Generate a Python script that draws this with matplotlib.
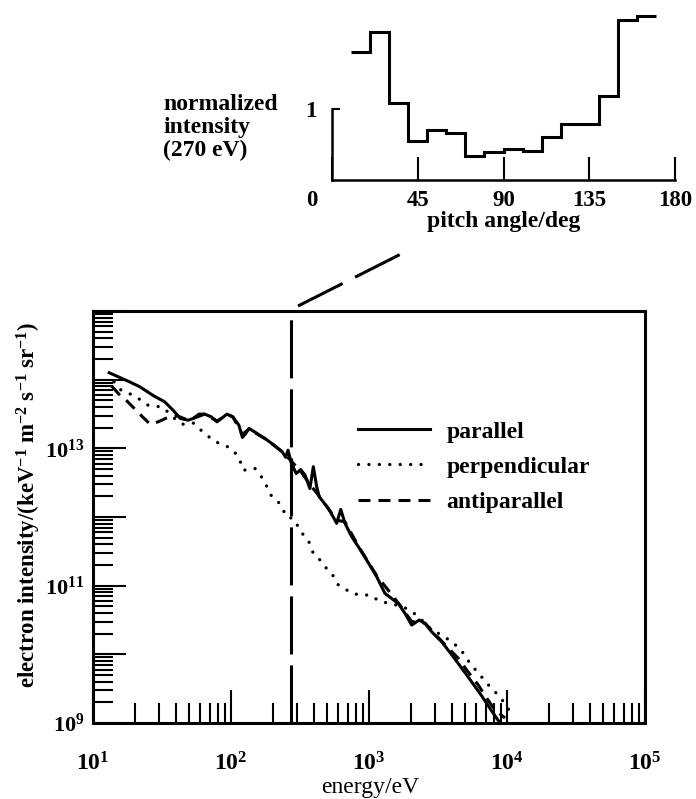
import matplotlib
matplotlib.use('Agg')
import matplotlib.pyplot as plt
from matplotlib.lines import Line2D
from matplotlib.ticker import LogLocator, NullFormatter
from matplotlib.transforms import ScaledTranslation

plt.rcParams['font.family'] = ['Liberation Serif', 'DejaVu Serif']
plt.rcParams['font.weight'] = 'bold'
plt.rcParams['axes.labelweight'] = 'bold'
plt.rcParams['mathtext.fontset'] = 'custom'
plt.rcParams['mathtext.rm'] = 'Liberation Serif:bold'
plt.rcParams['mathtext.bf'] = 'Liberation Serif:bold'
plt.rcParams['mathtext.it'] = 'Liberation Serif:italic:bold'
plt.rcParams['mathtext.sf'] = 'Liberation Serif'
plt.rcParams['lines.scale_dashes'] = False

# pitch-angle distribution at 270 eV, 10 degree bins
pitch_edges = [10, 20, 30, 40, 50, 60, 70, 80, 90, 100, 110, 120, 130, 140, 150, 160, 170]
pitch_norm = [1.80, 2.08, 1.09, 0.55, 0.70, 0.66, 0.34, 0.40, 0.44, 0.41,
              0.61, 0.79, 0.79, 1.18, 2.25, 2.31]
pitch_ticks = [0, 45, 90, 135, 180]

cut_energy = 270  # energy of the pitch-angle cut (eV)

# electron spectra, energy in eV, intensity in keV^-1 m^-2 s^-1 sr^-1
par_energy = [13.1, 17.4, 21.8, 27.2, 33.1, 38.0, 43.0, 48.8, 53.1, 58.6, 64.4, 71.9,
              79.2, 85.1, 93.6, 103, 114, 121, 128, 135, 152, 180, 213, 235, 249, 259,
              274, 297, 320, 344, 373, 395, 418, 436, 466, 507, 551, 583, 624, 670,
              750, 836, 962, 1137, 1306, 1631, 1823, 2038, 2313, 2545, 2846, 3365,
              4083, 5105, 6371, 7960, 8900]
par_flux = [1.26e14, 9.8e13, 7.9e13, 5.9e13, 4.75e13, 3.6e13, 2.72e13, 2.57e13, 2.72e13,
            3.15e13, 3.15e13, 2.88e13, 2.43e13, 2.72e13, 3.15e13, 2.88e13, 2.18e13,
            1.44e13, 1.65e13, 1.95e13, 1.68e13, 1.35e13, 1.05e13, 8.9e12, 7.4e12, 9.4e12,
            6.0e12, 4.3e12, 4.9e12, 4.07e12, 2.6e12, 5.4e12, 2.75e12, 1.97e12, 1.66e12,
            1.33e12, 1.0e12, 8.1e11, 1.29e12, 8.1e11, 5.15e11, 3.7e11, 2.36e11, 1.35e11,
            7.7e10, 5.5e10, 3.95e10, 2.67e10, 3.16e10, 2.82e10, 2.13e10, 1.52e10, 9.2e9,
            5.0e9, 2.7e9, 1.38e9, 1.0e9]

perp_energy = [14.2, 16.0, 17.4, 19.5, 22.4, 25.0, 28.8, 32.2, 36.9, 40.1, 44.9, 50.2,
               53.1, 58.6, 64.4, 70.1, 80.5, 95.1, 106, 116, 122, 135, 149, 166, 180,
               197, 220, 239, 253, 283, 307, 334, 363, 395, 442, 480, 537, 600, 670,
               750, 885, 1017, 1197, 1420, 1773, 2220, 2768, 3656, 4564, 5391, 6371,
               7530, 8900, 9950, 11240]
perp_flux = [9.3e13, 7.0e13, 6.6e13, 5.9e13, 5.0e13, 4.26e13, 4.1e13, 3.94e13, 3.04e13,
             2.57e13, 2.25e13, 2.3e13, 2.35e13, 1.95e13, 1.65e13, 1.44e13, 1.2e13, 1.05e13,
             8.9e12, 6.7e12, 4.8e12, 4.9e12, 5.1e12, 3.85e12, 2.9e12, 2.0e12, 1.66e12,
             1.26e12, 1.0e12, 9.5e11, 7.2e11, 5.5e11, 4.6e11, 2.95e11, 2.36e11, 1.88e11,
             1.51e11, 1.02e11, 9.0e10, 7.7e10, 7.3e10, 7.3e10, 5.9e10, 5.5e10, 4.93e10,
             3.73e10, 2.39e10, 1.71e10, 1.22e10, 7.4e9, 5.0e9, 3.37e9, 2.4e9, 1.73e9, 1.22e9]

anti_energy = [13.7, 15.7, 17.6, 19.8, 22.6, 25.9, 28.1, 31.6, 36.1, 41.3, 48.8, 53.1,
               64.4, 79.2, 93.6, 103, 121, 135, 180, 235, 274, 320, 373, 436, 507, 583,
               670, 836, 1137, 1631, 2038, 2545, 3365, 4436, 5105, 6194, 7129, 8185, 9680]
anti_flux = [8.0e13, 5.9e13, 4.9e13, 3.85e13, 2.94e13, 2.25e13, 2.33e13, 2.57e13, 2.94e13,
             2.95e13, 2.57e13, 2.72e13, 3.15e13, 2.5e13, 3.1e13, 2.88e13, 1.6e13, 1.9e13,
             1.35e13, 8.9e12, 6.5e12, 4.6e12, 3.0e12, 2.0e12, 1.33e12, 9.0e11, 8.5e11,
             3.8e11, 1.4e11, 5.6e10, 3.0e10, 2.85e10, 1.55e10, 8.75e9, 5.9e9, 3.57e9,
             2.29e9, 1.55e9, 1.18e9]

energy_ticks = [1e1, 1e2, 1e3, 1e4, 1e5]
energy_labels = [r'$\mathsf{10^{1}}$', r'$\mathsf{10^{2}}$', r'$\mathsf{10^{3}}$',
                 r'$\mathsf{10^{4}}$', r'$\mathsf{10^{5}}$']
flux_ticks = [1e9, 1e10, 1e11, 1e12, 1e13, 1e14, 1e15]
flux_labels = [r'$10^{9}$', '', r'$10^{11}$', '', r'$10^{13}$', '', '']

W, H = 696, 799
fig = plt.figure(figsize=(W / 100, H / 100), dpi=100)

# main spectrum panel
ax = fig.add_axes([93 / W, 1 - 723 / H, 552 / W, 412 / H])
ax.set_xscale('log')
ax.set_yscale('log')

ax.plot(anti_energy, anti_flux, color='k', lw=2.2, linestyle=(0, (8.6, 5.8)), label='antiparallel')
ax.plot(perp_energy, perp_flux, color='k', lw=2.4, linestyle=(0, (0.01, 7.5)),
        dash_capstyle='round', label='perpendicular')
ax.plot(par_energy, par_flux, color='k', lw=2.2, solid_joinstyle='round', label='parallel')
ax.axvline(cut_energy, color='k', lw=2.2, linestyle=(0, (41.8, 7.9)))

ax.set_xlim(1e1, 1e5)
ax.set_ylim(1e9, 1e15)
ax.set_xticks(energy_ticks, labels=energy_labels)
ax.set_yticks(flux_ticks, labels=flux_labels)
ax.xaxis.set_minor_locator(LogLocator(base=10, subs=range(2, 10), numticks=20))
ax.yaxis.set_minor_locator(LogLocator(base=10, subs=range(2, 10), numticks=20))
ax.xaxis.set_minor_formatter(NullFormatter())
ax.yaxis.set_minor_formatter(NullFormatter())
ax.tick_params(which='major', direction='in', length=24, width=1.5)
ax.tick_params(which='minor', direction='in', length=14.5, width=1.5)
ax.tick_params(axis='x', which='major', pad=21, labelsize=17)
ax.tick_params(axis='y', which='major', pad=6, labelsize=16)
for s in ax.spines.values():
    s.set_linewidth(2.2)

handles, labels = ax.get_legend_handles_labels()
ax.legend(handles[::-1], labels[::-1], loc='upper left', bbox_to_anchor=(0.48, 0.733),
          frameon=False, fontsize=17, handlelength=3.05, handletextpad=0.7,
          labelspacing=0.58, borderaxespad=0, borderpad=0)

fig.text(29 / W, 1 - 505 / H,
         r'electron intensity/(keV$^{-1}$ m$^{-2}$ s$^{-1}$ sr$^{-1}$)',
         rotation=90, ha='center', va='center', fontsize=16.5)
fig.text(370 / W, 1 - 788 / H, 'energy/eV', ha='center', va='center',
         fontsize=17, fontweight='normal')

# pitch-angle inset
ins = fig.add_axes([332 / W, 1 - 180 / H, 343 / W, 177.5 / H])
ins.stairs(pitch_norm, pitch_edges, baseline=None, color='k', lw=2.2)
ins.set_xlim(0, 180)
ins.set_ylim(0, 2.5)
ins.patch.set_visible(False)
ins.spines['top'].set_visible(False)
ins.spines['right'].set_visible(False)
ins.spines['left'].set_bounds(0, 1)
ins.spines['left'].set_linewidth(1.8)
ins.spines['bottom'].set_linewidth(1.8)
ins.set_xticks(pitch_ticks, labels=[str(t) for t in pitch_ticks])
ins.set_yticks([1], labels=['1'])
ins.tick_params(axis='x', direction='in', length=16.5, width=1.5, pad=7, labelsize=16.5)
ins.tick_params(axis='y', direction='in', length=6, width=1.5, pad=11, labelsize=16.5)
zero = ins.get_xticklabels()[0]
zero.set_transform(zero.get_transform() + ScaledTranslation(-0.2, 0, fig.dpi_scale_trans))
ins.set_xlabel('pitch angle/deg', fontsize=17, fontweight='bold')
ins.xaxis.set_label_coords(0.5, (180 - 222) / 177.5)
ins.xaxis.label.set_va('center')

fig.text(163 / W, 1 - 128 / H, 'normalized\nintensity\n(270 eV)', ha='left', va='center',
         fontsize=17, linespacing=1.12)

# dashed pointer from the 270 eV line to the inset
fig.add_artist(Line2D([298 / W, 403 / W], [1 - 306 / H, 1 - 253 / H], transform=fig.transFigure,
                      color='k', lw=2.2, linestyle=(0, (36, 10))))

fig.savefig('out.png', dpi=100)
